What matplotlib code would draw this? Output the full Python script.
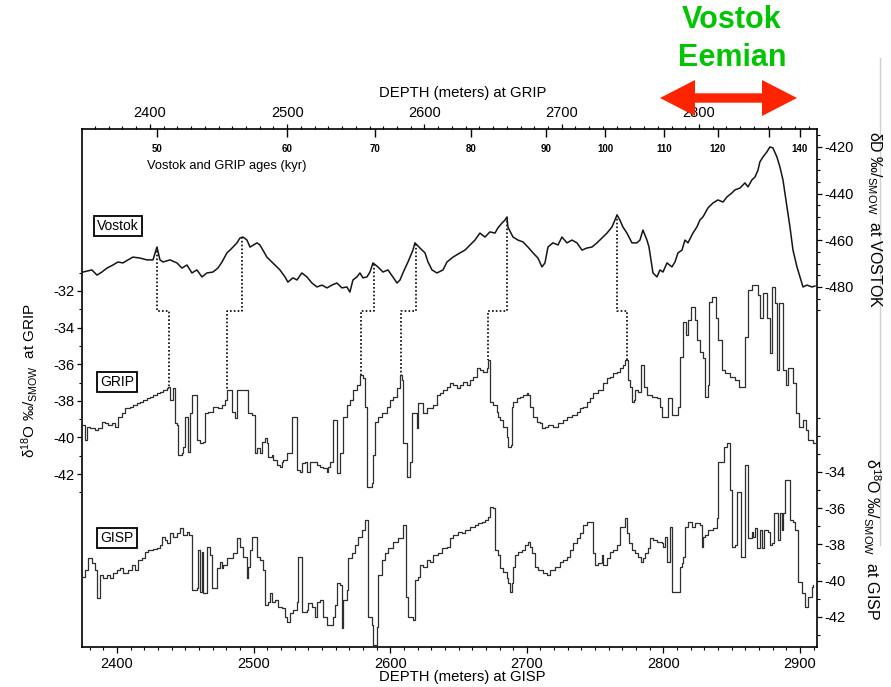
import numpy as np
import matplotlib
matplotlib.use("Agg")
import matplotlib.pyplot as plt
from matplotlib.ticker import FixedLocator, MultipleLocator, FixedFormatter
from matplotlib.patches import Polygon
from matplotlib.lines import Line2D

plt.rcParams['font.family'] = ['Liberation Sans', 'DejaVu Sans']
plt.rcParams['mathtext.fontset'] = 'custom'
plt.rcParams['mathtext.rm'] = 'Liberation Sans'
plt.rcParams['mathtext.it'] = 'Liberation Sans:italic'
plt.rcParams['mathtext.bf'] = 'Liberation Sans:bold'
plt.rcParams['mathtext.default'] = 'regular'
plt.rcParams['axes.unicode_minus'] = False

# ---- Vostok deltaD record, placed on the GRIP depth scale (m) ----
vostok_depth = [
    2351.2, 2357.7, 2361.4, 2365.0, 2368.7, 2373.0, 2376.7, 2380.3, 2384.0, 2387.6,
    2392.7, 2397.8, 2402.2, 2405.1, 2407.3, 2409.5, 2414.6, 2419.7, 2423.3, 2427.0,
    2430.6, 2434.2, 2437.9, 2441.5, 2445.9, 2449.5, 2452.5, 2456.1, 2458.3, 2460.5,
    2463.4, 2465.6, 2467.8, 2470.7, 2472.9, 2478.0, 2480.1, 2482.3, 2485.2, 2488.9,
    2491.1, 2494.7, 2498.4, 2500.5, 2504.2, 2507.1, 2510.7, 2514.4, 2518.0, 2521.7,
    2525.3, 2529.0, 2532.6, 2536.2, 2539.9, 2543.5, 2545.7, 2547.9, 2550.8, 2553.0,
    2555.2, 2558.1, 2560.3, 2562.5, 2566.1, 2569.8, 2573.4, 2577.0, 2580.0, 2582.2,
    2584.3, 2588.0, 2591.6, 2593.1, 2596.7, 2600.4, 2602.6, 2605.5, 2609.1, 2613.5,
    2616.4, 2620.8, 2625.9, 2629.5, 2633.2, 2636.8, 2640.4, 2644.1, 2647.7, 2651.4,
    2653.5, 2656.5, 2658.7, 2660.1, 2660.8, 2664.5, 2668.1, 2671.8, 2675.4, 2679.1,
    2682.7, 2685.6, 2687.8, 2690.0, 2693.6, 2697.3, 2700.2, 2703.8, 2707.5, 2711.1,
    2714.8, 2718.4, 2722.0, 2725.7, 2729.3, 2733.0, 2736.6, 2738.8, 2740.3, 2742.4,
    2744.6, 2747.5, 2751.2, 2754.8, 2757.0, 2759.2, 2762.1, 2763.6, 2765.0, 2766.5,
    2769.4, 2771.6, 2773.8, 2776.7, 2780.3, 2782.5, 2784.7, 2787.6, 2789.8, 2792.0,
    2795.6, 2798.5, 2800.7, 2802.9, 2806.6, 2810.2, 2813.8, 2817.5, 2820.4, 2824.0,
    2826.2, 2829.9, 2833.5, 2835.7, 2838.6, 2840.8, 2843.0, 2844.4, 2846.6, 2849.5,
    2851.7, 2853.9, 2856.8, 2859.0, 2861.2, 2864.1, 2866.3, 2868.5, 2871.4, 2873.6,
    2875.8, 2878.7, 2882.3, 2884.5]
vostok_dD = [
    -473.6, -472.7, -474.9, -473.6, -471.9, -470.6, -469.3, -469.7, -468.4, -467.2,
    -467.6, -468.4, -468.4, -462.9, -468.4, -469.3, -468.4, -469.7, -471.9, -470.6,
    -474.0, -472.7, -475.7, -474.0, -473.6, -471.9, -469.3, -465.4, -464.2, -462.9,
    -461.1, -459.0, -458.6, -459.9, -462.9, -461.1, -462.0, -464.2, -467.2, -469.3,
    -470.6, -472.7, -475.7, -477.9, -476.1, -477.0, -474.0, -475.7, -478.3, -480.0,
    -479.2, -480.4, -479.2, -478.3, -480.4, -480.0, -482.2, -477.0, -475.7, -474.0,
    -476.1, -475.7, -473.6, -469.7, -471.4, -473.6, -472.7, -475.7, -478.3, -477.0,
    -474.0, -469.3, -464.2, -461.1, -463.3, -465.4, -469.3, -472.7, -474.0, -472.7,
    -469.3, -467.2, -465.4, -464.2, -462.0, -459.9, -456.9, -458.6, -456.4, -456.9,
    -454.7, -452.6, -451.3, -450.0, -454.3, -458.6, -459.9, -460.7, -462.9, -465.4,
    -467.6, -471.4, -469.7, -462.9, -461.1, -462.0, -458.6, -461.1, -459.9, -461.1,
    -464.2, -463.3, -462.9, -461.1, -459.0, -456.9, -454.3, -451.3, -449.1, -451.3,
    -454.3, -456.9, -461.1, -461.1, -459.9, -455.6, -459.9, -462.9, -468.4, -474.0,
    -475.7, -472.7, -473.6, -469.7, -471.4, -469.3, -465.4, -464.2, -459.9, -461.1,
    -456.9, -454.3, -451.3, -450.0, -446.1, -444.0, -442.7, -443.6, -441.4, -439.7,
    -438.4, -437.6, -435.4, -437.1, -434.1, -432.9, -429.9, -426.4, -424.3, -422.1,
    -420.0, -420.4, -424.3, -428.6, -434.1, -445.7, -454.3, -464.2, -471.4, -475.7,
    -480.0, -479.2, -480.0, -479.6]

# ---- GRIP d18O record vs GRIP depth (m) ----
grip_depth = [
    2350.9, 2352.6, 2354.3, 2356.3, 2359.9, 2362.4, 2364.8, 2367.2, 2369.6, 2372.1,
    2374.5, 2376.9, 2379.4, 2381.8, 2385.4, 2387.9, 2390.3, 2392.7, 2395.1, 2397.6,
    2400.0, 2402.4, 2404.9, 2407.3, 2409.7, 2412.1, 2413.4, 2414.6, 2417.0, 2418.2,
    2419.4, 2420.6, 2423.1, 2424.3, 2425.5, 2427.9, 2429.1, 2430.4, 2434.0, 2436.4,
    2438.9, 2440.1, 2442.5, 2446.1, 2449.8, 2452.2, 2454.6, 2455.9, 2459.5, 2461.9,
    2463.1, 2471.6, 2474.1, 2476.5, 2477.7, 2480.1, 2481.4, 2483.8, 2485.0, 2486.2,
    2488.6, 2489.9, 2492.3, 2494.7, 2495.9, 2497.2, 2499.6, 2503.2, 2506.9, 2509.3,
    2510.5, 2512.9, 2514.2, 2516.6, 2521.4, 2523.9, 2526.3, 2528.7, 2529.9, 2531.2,
    2533.6, 2536.0, 2538.4, 2540.9, 2543.3, 2545.7, 2548.2, 2550.6, 2553.0, 2555.4,
    2556.7, 2557.9, 2561.5, 2562.7, 2563.9, 2566.4, 2568.8, 2572.4, 2574.9, 2577.3,
    2579.7, 2582.2, 2583.4, 2584.6, 2587.0, 2589.4, 2590.7, 2594.3, 2595.5, 2599.2,
    2601.6, 2606.4, 2608.9, 2611.3, 2613.7, 2616.2, 2618.6, 2621.0, 2623.4, 2625.9,
    2628.3, 2630.7, 2633.1, 2635.6, 2638.0, 2640.4, 2642.9, 2645.3, 2646.5, 2647.7,
    2650.2, 2652.6, 2653.8, 2655.0, 2657.4, 2659.9, 2661.1, 2662.8, 2663.5, 2664.7,
    2667.2, 2669.6, 2672.0, 2674.4, 2675.6, 2676.9, 2679.3, 2681.7, 2684.2, 2685.4,
    2687.8, 2690.2, 2693.9, 2697.5, 2701.2, 2703.6, 2707.2, 2710.9, 2713.3, 2715.7,
    2718.2, 2720.6, 2723.0, 2726.7, 2730.3, 2732.7, 2735.2, 2737.6, 2740.0, 2742.4,
    2744.4, 2746.1, 2748.5, 2749.7, 2750.9, 2752.6, 2753.4, 2755.8, 2757.5, 2759.9,
    2761.8, 2765.5, 2769.1, 2771.5, 2772.8, 2777.6, 2780.0, 2784.9, 2786.1, 2788.5,
    2790.5, 2792.2, 2793.9, 2797.0, 2798.7, 2800.7, 2802.6, 2804.3, 2806.3, 2807.5,
    2809.2, 2812.3, 2814.0, 2816.5, 2818.9, 2822.5, 2826.2, 2829.3, 2833.5, 2835.9,
    2838.3, 2843.2, 2844.4, 2846.3, 2849.3, 2851.7, 2852.9, 2855.3, 2856.5, 2858.5,
    2860.9, 2863.3, 2865.1, 2868.7, 2870.6, 2873.1, 2876.0, 2877.9, 2879.6, 2883.3,
    2885.7]
grip_d18O = [
    -39.32, -40.14, -39.41, -39.50, -39.60, -39.50, -39.14, -39.23, -39.32, -39.23,
    -39.41, -38.87, -38.69, -38.41, -38.32, -38.23, -38.14, -38.05, -37.96, -37.87,
    -37.78, -37.68, -37.59, -37.50, -37.41, -37.32, -37.23, -37.96, -37.32, -39.23,
    -39.32, -40.96, -40.87, -40.51, -38.87, -40.78, -38.69, -37.68, -40.14, -40.32,
    -40.23, -38.69, -38.59, -38.32, -38.41, -38.23, -37.96, -37.41, -38.59, -38.96,
    -37.41, -38.69, -38.78, -40.87, -40.60, -40.87, -40.23, -40.05, -40.32, -41.05,
    -40.96, -41.24, -41.51, -41.60, -41.33, -41.24, -40.87, -38.87, -41.78, -41.87,
    -41.42, -41.33, -41.87, -41.33, -41.51, -41.60, -41.69, -41.87, -41.60, -41.33,
    -39.05, -41.96, -40.87, -38.87, -38.23, -37.96, -37.41, -37.14, -36.59, -36.77,
    -38.32, -42.69, -42.51, -40.96, -39.14, -38.87, -38.69, -38.32, -37.96, -37.78,
    -37.32, -36.59, -36.86, -40.32, -42.15, -41.33, -38.69, -39.50, -38.14, -38.69,
    -38.41, -38.23, -37.68, -37.59, -37.41, -37.23, -37.05, -37.14, -37.32, -37.14,
    -36.96, -37.14, -36.86, -36.68, -36.23, -36.32, -36.41, -36.23, -35.77, -38.05,
    -38.23, -38.59, -38.87, -39.05, -39.41, -39.96, -40.51, -40.42, -38.32, -38.05,
    -37.87, -37.78, -37.68, -37.59, -37.68, -38.32, -38.87, -39.14, -39.23, -39.50,
    -39.41, -39.32, -39.41, -39.23, -39.05, -38.87, -38.78, -38.59, -38.41, -38.32,
    -38.05, -37.87, -37.59, -37.41, -37.05, -36.77, -36.68, -36.50, -36.41, -36.23,
    -36.04, -35.77, -36.86, -37.23, -38.05, -37.96, -37.41, -37.50, -36.04, -37.23,
    -37.68, -37.77, -37.86, -38.32, -38.87, -37.86, -38.78, -38.32, -35.59, -33.67,
    -34.40, -33.58, -32.86, -33.58, -34.68, -35.31, -35.68, -37.77, -37.14, -32.58,
    -32.31, -33.49, -34.68, -36.32, -36.50, -36.68, -36.86, -37.23, -34.50, -31.94,
    -31.67, -32.22, -33.49, -32.13, -33.49, -35.41, -31.76, -32.67, -36.32, -32.67,
    -36.32, -37.14, -36.23, -37.04, -38.68, -39.41, -39.05, -39.60, -40.14, -40.32,
    -40.14]

# ---- GISP d18O record vs GISP depth (m) ----
gisp_depth = [
    2374.9, 2376.6, 2379.0, 2381.5, 2383.9, 2385.1, 2387.6, 2390.0, 2392.4, 2394.9,
    2397.3, 2399.8, 2402.2, 2404.6, 2408.3, 2410.7, 2413.2, 2415.6, 2418.1, 2420.5,
    2422.9, 2426.6, 2429.0, 2431.5, 2432.7, 2435.1, 2436.4, 2438.8, 2441.2, 2443.7,
    2446.1, 2448.6, 2451.0, 2452.9, 2454.7, 2458.3, 2459.5, 2460.8, 2462.0, 2463.2,
    2465.6, 2468.1, 2469.3, 2473.0, 2475.4, 2476.6, 2477.8, 2480.3, 2485.2, 2487.6,
    2490.0, 2492.5, 2494.9, 2496.1, 2497.4, 2498.6, 2502.3, 2504.7, 2507.1, 2508.3,
    2510.8, 2512.0, 2513.2, 2515.7, 2518.1, 2520.5, 2523.0, 2524.2, 2526.6, 2529.1,
    2531.5, 2532.7, 2535.2, 2538.8, 2540.1, 2542.5, 2544.9, 2546.2, 2548.6, 2551.0,
    2553.5, 2558.4, 2559.6, 2560.8, 2563.2, 2564.5, 2565.7, 2568.1, 2569.4, 2571.8,
    2574.2, 2576.7, 2579.1, 2581.6, 2584.0, 2586.4, 2587.6, 2590.1, 2591.3, 2593.8,
    2596.2, 2598.6, 2602.3, 2606.0, 2609.6, 2611.6, 2613.3, 2616.9, 2618.2, 2620.6,
    2621.8, 2624.3, 2626.7, 2629.1, 2631.6, 2635.2, 2637.7, 2641.3,
    2643.8, 2646.2, 2649.9, 2652.3, 2654.8, 2658.4, 2662.1, 2664.5, 2667.0, 2669.4,
    2671.8, 2673.1, 2675.5, 2676.7, 2679.2, 2680.4, 2682.8, 2685.3, 2686.5, 2687.7,
    2689.0, 2690.2, 2691.4, 2693.8, 2696.2, 2698.7, 2701.1, 2702.3, 2703.6, 2706.0,
    2708.4, 2712.1, 2714.5, 2717.0, 2720.7, 2724.3, 2726.8, 2729.2, 2731.6, 2734.1,
    2736.5, 2739.0, 2741.4, 2743.8, 2748.7, 2750.0, 2752.4, 2754.8, 2756.0, 2758.5,
    2760.9, 2763.4, 2765.8,
    2768.2, 2771.9, 2773.6, 2775.1, 2776.8, 2779.2, 2781.6, 2783.4, 2785.3, 2786.5,
    2789.0, 2790.2, 2792.6, 2795.1, 2798.7, 2800.0, 2801.2, 2802.4, 2804.8, 2806.1,
    2812.2, 2813.4, 2814.6, 2815.8, 2818.3, 2820.7, 2823.1, 2826.8, 2828.0, 2829.2,
    2830.5, 2832.9, 2836.6, 2839.0, 2840.2, 2844.4, 2846.3, 2848.8, 2850.0, 2852.4,
    2853.6, 2856.6, 2859.7, 2862.2, 2864.6, 2865.8, 2867.1, 2868.8, 2870.7, 2871.9,
    2873.6, 2876.8, 2878.0, 2879.3, 2880.9, 2884.1, 2885.4, 2886.6, 2887.8, 2889.0,
    2892.7, 2895.1, 2896.3, 2898.8, 2901.2, 2903.7, 2906.1, 2908.5, 2909.8]
gisp_d18O = [
    -39.79, -39.41, -38.76, -39.04, -39.41, -40.97, -39.68, -39.87, -39.68, -39.87,
    -39.59, -39.41, -39.32, -39.59, -39.41, -39.13, -39.41, -38.86, -38.76, -38.40,
    -38.30, -38.27, -38.21, -38.03, -37.57, -37.75, -37.94, -37.38, -37.57, -37.38,
    -37.11, -37.48, -37.29, -37.48, -40.51, -40.42, -38.30, -40.60, -38.40, -40.69,
    -38.12, -38.58, -40.42, -39.32, -38.95, -39.32, -39.13, -38.76, -38.49, -37.66,
    -38.12, -38.67, -39.87, -39.22, -38.30, -37.57, -38.67, -38.86, -39.41, -41.34,
    -41.15, -40.69, -41.15, -41.06, -41.43, -41.52, -41.98, -42.26, -41.80, -41.61,
    -41.15, -38.67, -41.71, -41.61, -41.25, -41.43, -41.98, -41.15, -41.06, -41.98,
    -42.44, -41.98, -41.34, -40.14, -40.23, -42.63, -41.06, -40.51, -38.76, -38.49,
    -38.03, -37.57, -37.20, -36.65, -41.98, -42.44, -43.55, -42.53, -39.68, -38.86,
    -38.49, -38.21, -37.84, -37.66, -36.92, -40.88, -41.98, -42.17, -39.96, -39.78,
    -39.13, -39.22, -38.86, -38.95, -38.58, -38.49, -38.21, -38.12,
    -37.66, -37.48, -37.29, -37.38, -37.20, -37.02, -36.92, -36.83, -36.74, -36.65,
    -36.46, -35.91, -36.00, -38.30, -38.58, -39.32, -39.50, -39.87, -40.14, -40.60,
    -40.14, -39.22, -38.58, -38.40, -38.30, -38.03, -37.84, -38.12, -38.49, -39.22,
    -39.41, -39.59, -39.68, -39.41, -39.22, -38.95, -38.86, -38.67, -38.30, -37.94,
    -37.66, -37.38, -36.92, -36.74, -38.49, -39.13, -39.04, -38.58, -39.13, -38.76,
    -38.40, -38.30, -38.03,
    -37.02, -36.56, -37.38, -37.94, -38.30, -38.49, -38.67, -38.95, -38.76, -38.49,
    -38.21, -37.66, -37.75, -37.84, -37.94, -38.12, -37.57, -38.95, -37.02, -40.60,
    -39.22, -39.04, -38.67, -37.02, -36.74, -37.02, -36.83, -36.92, -38.12, -37.57,
    -37.48, -37.20, -37.11, -36.56, -33.47, -32.60, -32.42, -34.99, -38.12, -38.03,
    -35.09, -38.67, -33.61, -37.66, -37.29, -37.57, -37.11, -38.21, -37.20, -38.21,
    -37.20, -37.29, -38.03, -37.94, -36.28, -37.75, -36.28, -37.20, -36.28, -34.44,
    -36.65, -36.74, -37.20, -40.05, -40.69, -41.43, -40.88, -40.33, -40.24]

# Vostok/GRIP age scale (kyr) and the GRIP depths where each age falls
age_kyr = [50, 60, 70, 80, 90, 100, 110, 120, 130, 140]
age_grip_depth = [2405.1, 2499.8, 2563.9, 2633.9, 2688.5, 2731.5, 2774.5, 2813.8, 2851.0, 2873.6]
age_labels = ['50', '60', '70', '80', '90', '100', '110', '120', '', '140']

# Tie points linking Vostok events to GRIP events
tie_vostok_depth = [2405.1, 2467.0, 2563.2, 2593.8, 2660.1, 2740.3]
tie_grip_depth = [2414.0, 2456.1, 2553.7, 2582.9, 2646.6, 2747.5]
tie_elbow = -33.1   # GRIP d18O level of the horizontal jog

W, H = 891, 687
fig = plt.figure(figsize=(W / 100, H / 100), dpi=100)
fig.patch.set_facecolor('white')
rect = [82 / W, 40 / H, 735 / W, 518 / H]

LINE = '#2e2e2e'
TICK_FS = 10.5

# GISP panel: bottom depth axis, lower right d18O axis, and the frame
ax_s = fig.add_axes(rect)
ax_s.set_xlim(2374.4, 2912.4)
ax_s.set_ylim(-43.66, -15.08)
ax_s.plot(gisp_depth, gisp_d18O, drawstyle='steps-post', color=LINE, lw=0.9)
ax_s.xaxis.set_major_locator(MultipleLocator(100))
ax_s.xaxis.set_minor_locator(MultipleLocator(10))
ax_s.tick_params(axis='x', which='major', direction='out', length=4, width=0.9,
                 pad=3, labelsize=TICK_FS)
ax_s.tick_params(axis='x', which='minor', direction='out', length=2.5, width=0.8)
ax_s.yaxis.tick_right()
ax_s.yaxis.set_major_locator(FixedLocator([-34, -36, -38, -40, -42]))
ax_s.yaxis.set_minor_locator(FixedLocator([-31, -32, -33, -35, -37, -39, -41, -43]))
ax_s.tick_params(axis='y', which='major', direction='out', length=3.5, width=0.9,
                 pad=2, labelsize=TICK_FS)
ax_s.tick_params(axis='y', which='minor', direction='out', length=2.5, width=0.8)
for sp in ax_s.spines.values():
    sp.set_linewidth(1.2)

# GRIP panel: top depth axis and left d18O axis
ax_g = fig.add_axes(rect, facecolor='none')
ax_g.set_xlim(2350.5, 2886.0)
ax_g.set_ylim(-51.45, -23.15)
for sp in ax_g.spines.values():
    sp.set_visible(False)
ax_g.plot(grip_depth, grip_d18O, drawstyle='steps-post', color=LINE, lw=0.9)
ax_g.xaxis.tick_top()
ax_g.xaxis.set_major_locator(MultipleLocator(100))
ax_g.xaxis.set_minor_locator(MultipleLocator(10))
ax_g.tick_params(axis='x', which='major', direction='out', length=3.5, width=0.9,
                 pad=3, labelsize=TICK_FS)
ax_g.tick_params(axis='x', which='minor', direction='out', length=2.5, width=0.8)
ax_g.yaxis.set_major_locator(FixedLocator([-32, -34, -36, -38, -40, -42]))
ax_g.yaxis.set_minor_locator(FixedLocator([-31, -33, -35, -37, -39, -41, -43]))
ax_g.tick_params(axis='y', which='major', direction='out', length=3.5, width=0.9,
                 pad=2, labelsize=TICK_FS)
ax_g.tick_params(axis='y', which='minor', direction='out', length=2.5, width=0.8)

# Vostok panel: upper right deltaD axis, shares the GRIP depth scale
ax_v = ax_g.twinx()
ax_v.set_ylim(-634.3, -412.3)
for sp in ax_v.spines.values():
    sp.set_visible(False)
ax_v.plot(vostok_depth, vostok_dD, color='#151515', lw=1.1)
ax_v.yaxis.set_major_locator(FixedLocator([-420, -440, -460, -480]))
ax_v.yaxis.set_minor_locator(FixedLocator([-415, -425, -430, -435, -445, -450, -455,
                                           -465, -470, -475, -485, -490]))
ax_v.tick_params(axis='y', which='major', direction='out', length=3.5, width=0.9,
                 pad=2, labelsize=TICK_FS)
ax_v.tick_params(axis='y', which='minor', direction='out', length=2.5, width=0.8)

# Age ticks pointing into the plot below the top axis
ax_a = fig.add_axes(rect, facecolor='none')
ax_a.set_xlim(ax_g.get_xlim())
for sp in ax_a.spines.values():
    sp.set_visible(False)
ax_a.yaxis.set_visible(False)
ax_a.xaxis.tick_top()
ax_a.xaxis.set_major_locator(FixedLocator(age_grip_depth))
ax_a.xaxis.set_major_formatter(FixedFormatter(age_labels))
ax_a.tick_params(axis='x', which='major', direction='in', length=6, width=1.0,
                 pad=-18, labelsize=7)
for lab in ax_a.get_xticklabels():
    lab.set_fontweight('bold')

# Dotted tie lines from Vostok events down to GRIP events
to_g = ax_g.transData.inverted()
grip_x = np.asarray(grip_depth)
grip_y = np.asarray(grip_d18O)
for dv, dg in zip(tie_vostok_depth, tie_grip_depth):
    v = np.interp(dv, vostok_depth, vostok_dD)
    top = to_g.transform(ax_v.transData.transform((dv, v)))[1]
    g_end = grip_y[np.searchsorted(grip_x, dg, side='right') - 1]
    ax_g.plot([dv, dv, dg, dg], [top, tie_elbow, tie_elbow, g_end],
              color='black', lw=1.2, ls=(0, (1, 1.3)))

def fx(px):
    return px / W

def fy(py):
    return 1 - py / H

# Axis titles
fig.text(fx(463), fy(93), 'DEPTH (meters) at GRIP', ha='center', va='center', fontsize=10.7)
fig.text(fx(462), fy(677), 'DEPTH (meters) at GISP', ha='center', va='center', fontsize=10.7)
fig.text(fx(227), fy(166), 'Vostok and GRIP ages (kyr)', ha='center', va='center', fontsize=9.3)
fig.text(fx(30), fy(380), r'δ$^{18}$O ‰/$_{SMOW}$  at GRIP', rotation=90,
         ha='center', va='center', fontsize=11)
fig.text(fx(874), fy(220), r'δD ‰/$_{SMOW}$  at VOSTOK', rotation=270,
         ha='center', va='center', fontsize=11.5)
fig.text(fx(872), fy(539), r'δ$^{18}$O ‰/$_{SMOW}$  at GISP', rotation=270,
         ha='center', va='center', fontsize=11.5)

# Record name boxes
box = dict(boxstyle='square,pad=0.25', facecolor='white', edgecolor='black', lw=1.3)
for name, (px, py) in [('Vostok', (118, 226)), ('GRIP', (117, 382)), ('GISP', (117, 538))]:
    fig.text(fx(px), fy(py), name, ha='center', va='center', fontsize=10, bbox=box)

# Eemian annotation with a double-headed arrow
fig.text(fx(732), fy(20), 'Vostok', ha='center', va='center', fontsize=22,
         fontweight='bold', color='#00C400')
fig.text(fx(732), fy(58), 'Eemian', ha='center', va='center', fontsize=22,
         fontweight='bold', color='#00C400')
x0, x1, yc = 660, 797, 98
hl, hw, sw = 35, 18, 4.7
arrow_px = [(x0, yc), (x0 + hl, yc - hw), (x0 + hl, yc - sw), (x1 - hl, yc - sw),
            (x1 - hl, yc - hw), (x1, yc), (x1 - hl, yc + hw), (x1 - hl, yc + sw),
            (x0 + hl, yc + sw), (x0 + hl, yc + hw)]
fig.add_artist(Polygon([(fx(a), fy(b)) for a, b in arrow_px], closed=True,
                       transform=fig.transFigure, facecolor='#FF2400',
                       edgecolor='none', zorder=10))

# faint page edge at the right
fig.add_artist(Line2D([fx(880), fx(880)], [fy(58), fy(545)], color='#cfcfcf', lw=1.0,
                      transform=fig.transFigure))

fig.savefig('out.png', dpi=100, facecolor='white')
